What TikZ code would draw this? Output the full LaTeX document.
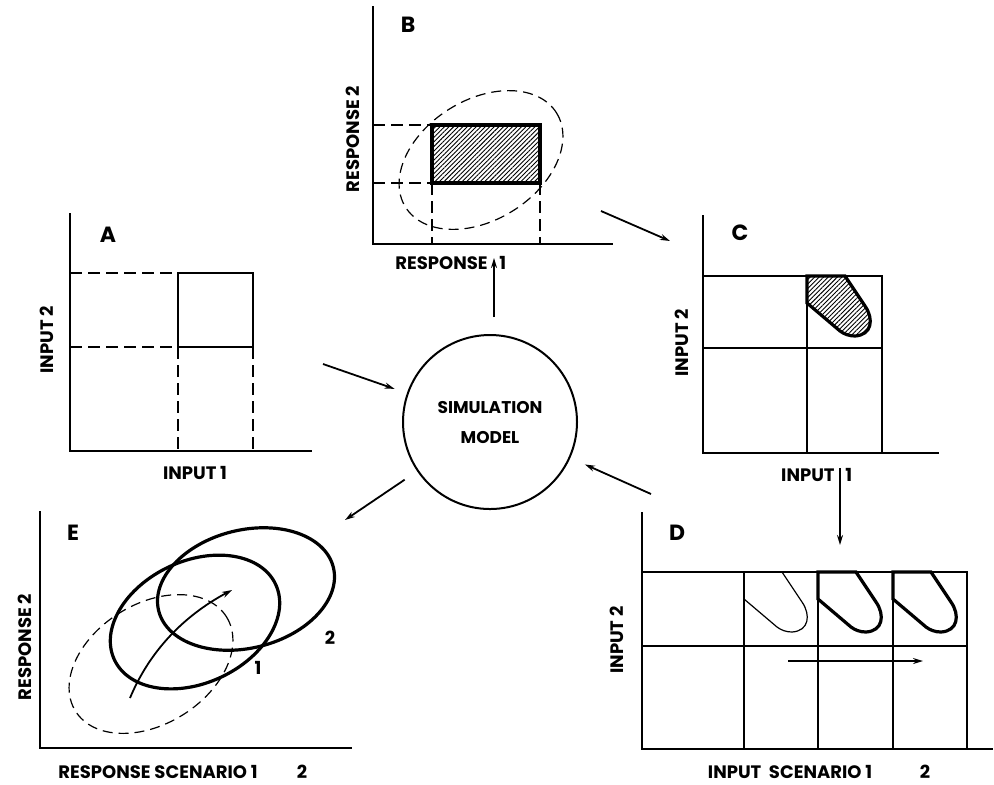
\documentclass[tikz,border=0pt]{standalone}
\usepackage{fontspec}
\setmainfont{Poppins}
\usepackage{tikz}
\usetikzlibrary{arrows.meta,patterns.meta}
\tikzstyle{axisline}=[line width=1pt]
\tikzstyle{gridline}=[line width=0.7pt]
\tikzstyle{guide}=[line width=1pt,dash pattern=on 6pt off 3pt]
\tikzstyle{contour}=[line width=0.6pt,dash pattern=on 5pt off 3pt]
\tikzstyle{heavy}=[line width=1.6pt]
\tikzstyle{flow}=[line width=0.9pt,-{Stealth[length=5pt,width=3pt]}]
\tikzstyle{hatch}=[pattern={Lines[angle=45,distance=1.6pt,line width=0.45pt]}]
\tikzstyle{letter}=[font=\fontsize{11}{13}\selectfont\bfseries,inner sep=0pt]
\tikzstyle{caption}=[font=\fontsize{9}{11}\selectfont\bfseries,inner sep=0pt]
\newcommand{\tongue}{(38,0) -- (58,30) .. controls (67,43) and (65,59) .. (48,60) .. controls (42,60) and (37,58) .. (33,55) -- (0,27)}

\begin{document}
\begin{tikzpicture}[x=0.5pt,y=-0.5pt]
\useasboundingbox (0,0) rectangle (994,784);

\begin{scope}
    \draw[axisline] (70,213) -- (70,451) -- (312,451);
    \draw[guide] (70,273) -- (178,273) (70,347) -- (178,347) (178,347) -- (178,451) (253,347) -- (253,451);
    \draw[line width=1.2pt] (178,273) rectangle (253,347);
    \node[letter] (labA) at (108,235) {A};
    \node[caption,rotate=90] (a2) at (47,340) {INPUT 2};
    \node[caption] (a1) at (195,473) {INPUT 1};
\end{scope}

\begin{scope}
    \draw[axisline] (373,6) -- (373,244) -- (613,244);
    \draw[guide] (373,125) -- (432,125) (373,183) -- (432,183) (432,183) -- (432,244) (540,183) -- (540,244);
    \draw[contour,rotate around={32:(481,160)}] (481,160) ellipse [x radius=89,y radius=60];
    \draw[line width=2pt,hatch] (432,125) rectangle (540,183);
    \node[letter] (labB) at (408,25) {B};
    \node[caption,rotate=90] (b2) at (353,139) {RESPONSE 2};
    \node[caption,anchor=east] (b1) at (488,263) {RESPONSE};
    \node[caption,anchor=west] (b1n) at (499,263) {1};
\end{scope}

\begin{scope}
    \draw[axisline] (703,215) -- (703,453) -- (939,453);
    \draw[gridline] (703,276) rectangle (882,453) (807,276) -- (807,453) (703,348) -- (882,348);
    \draw[heavy,hatch,shift={(807,276)}] (0,0) -- \tongue -- cycle;
    \node[letter] (labC) at (740,233) {C};
    \node[caption,rotate=90] (c2) at (682,343) {INPUT 2};
    \node[caption,anchor=east] (c1) at (835,475) {INPUT};
    \node[caption,anchor=west] (c1n) at (845,475) {1};
\end{scope}

\begin{scope}
    \draw[axisline] (642,512) -- (642,749) -- (993,749);
    \draw[gridline] (642,572) rectangle (967,749) (642,646) -- (967,646);
    \foreach \x in {744,818,893}
        \draw[gridline] (\x,572) -- (\x,749);
    \draw[line width=0.6pt,shift={(744,572)}] \tongue;
    \foreach \x in {818,893}
        \draw[heavy,shift={(\x,572)}] (0,0) -- \tongue -- cycle;
    \coordinate (shiftA) at (788,661);
    \coordinate (shiftB) at (923,661);
    \draw[flow] (shiftA) -- (shiftB);
    \node[letter] (labD) at (677,533) {D};
    \node[caption,rotate=90] (d2) at (617,640) {INPUT 2};
    \node[caption] (d1) at (790,772) {INPUT\ \ SCENARIO 1};
    \node[caption] (d1n) at (925,772) {2};
\end{scope}

\begin{scope}
    \draw[axisline] (40,511) -- (40,748) -- (352,748);
    \draw[contour,rotate around={32:(151,664)}] (151,664) ellipse [x radius=89,y radius=60];
    \draw[heavy,rotate around={25:(195,622)}] (195,622) ellipse [x radius=89,y radius=61];
    \draw[heavy,rotate around={14:(246,589)}] (246,589) ellipse [x radius=90,y radius=59];
    \coordinate (driftA) at (130,698);
    \coordinate (driftB) at (232,590);
    \draw[flow] (driftA) .. controls (150,650) and (185,615) .. (driftB);
    \node[caption] (e1lab) at (258,668) {1};
    \node[caption] (e2lab) at (330,638) {2};
    \node[letter] (labE) at (73,533) {E};
    \node[caption,rotate=90] (e2) at (25,647) {RESPONSE 2};
    \node[caption] (e1) at (158,772) {RESPONSE SCENARIO 1};
    \node[caption] (e1n) at (302,772) {2};
\end{scope}

\node[draw,circle,line width=1pt,minimum size=87pt,align=center,font=\fontsize{8.5}{15}\selectfont\bfseries] (sim) at (490,422) {SIMULATION\\MODEL};

\coordinate (aout) at (323,364);
\coordinate (ein) at (345,520);
\coordinate (dout) at (651,494);
\coordinate (bin) at (494,258);
\coordinate (bout) at (601,211);
\coordinate (cin) at (670,241);
\coordinate (cout) at (840,468);
\coordinate (din) at (840,545);
\draw[flow,shorten >=6.5pt] (aout) -- (sim);
\draw[flow,shorten <=7.5pt] (sim) -- (ein);
\draw[flow,shorten >=8pt] (dout) -- (sim);
\draw[flow,shorten <=8.5pt] (sim.north -| bin) -- (bin);
\draw[flow] (bout) -- (cin);
\draw[flow] (cout) -- (din);
\end{tikzpicture}
\end{document}
